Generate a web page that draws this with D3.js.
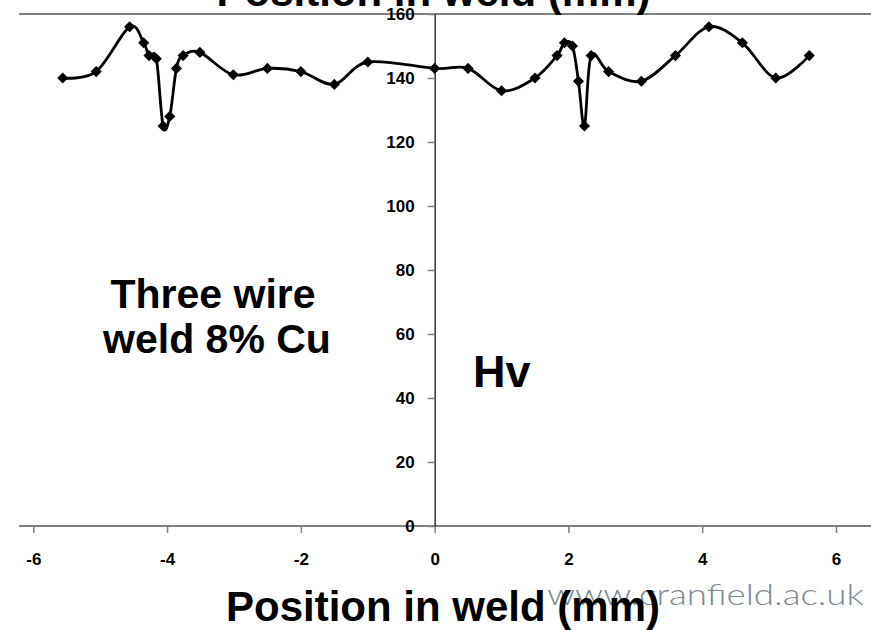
<!DOCTYPE html>
<html>
<head>
<meta charset="utf-8">
<script src="https://cdn.jsdelivr.net/npm/d3@7"></script>
<style>
  html, body { margin: 0; padding: 0; background: #fff; }
  svg { display: block; }
  text { font-family: "Liberation Sans", Arial, sans-serif; }
</style>
</head>
<body>
<svg id="chart" width="871" height="630"></svg>
<script>
// ---- data ----
const positions = [-5.56, -5.06, -4.56, -4.35, -4.27, -4.16, -4.06, -3.96, -3.86, -3.76, -3.51, -3.01,
  -2.5, -2.0, -1.5, -1.0, 0, 0.5, 1.0, 1.5, 1.83, 1.94, 2.06, 2.15, 2.24, 2.34, 2.6, 3.09,
  3.6, 4.1, 4.6, 5.1, 5.6];
const hardness = [140, 142, 156, 151, 147, 146, 125, 128, 143, 147, 148, 141,
  143, 142, 138, 145, 143, 143, 136, 140, 147, 151, 150, 139, 125, 147, 142, 139,
  147, 156, 151, 140, 147];
const xTickValues = [-6, -4, -2, 0, 2, 4, 6];
const xTickLabels = ["-6", "-4", "-2", "0", "2", "4", "6"];
const yTickValues = [0, 20, 40, 60, 80, 100, 120, 140, 160];
const yTickLabels = ["0", "20", "40", "60", "80", "100", "120", "140", "160"];
const axisTitle = "Position in weld (mm)";
const noteLines = ["Three wire", "weld 8% Cu"];
const unitLabel = "Hv";
const watermark = "www.cranfield.ac.uk";

const svg = d3.select("#chart");

const x = d3.scaleLinear().domain([-6, 6]).range([33.3, 836]);
const y = d3.scaleLinear().domain([0, 160]).range([526, 14]);

// plot area top border (gray)
svg.append("line").attr("x1", 19).attr("x2", 871).attr("y1", y(160)).attr("y2", y(160))
  .attr("stroke", "#808080").attr("stroke-width", 2);

// watermark
svg.append("text")
  .attr("x", 547).attr("y", 605)
  .attr("textLength", 317).attr("lengthAdjust", "spacingAndGlyphs")
  .style("font-family", "Lato, 'Open Sans', 'DejaVu Sans', sans-serif")
  .style("font-weight", 300)
  .style("font-size", "30px")
  .attr("fill", "#7a8894")
  .text(watermark);

// x axis
const xAxis = d3.axisBottom(x)
  .tickValues(xTickValues)
  .tickFormat((d, i) => xTickLabels[i])
  .tickSize(7).tickSizeOuter(0).tickPadding(20);
const gx = svg.append("g").attr("transform", `translate(0,${y(0)})`).call(xAxis);
gx.select(".domain").remove();
gx.selectAll(".tick line").attr("stroke", "#808080").attr("stroke-width", 1.5);
gx.selectAll(".tick text").attr("fill", "#000")
  .style("font-size", "17px").style("font-weight", "bold")
  .style("font-family", "'Liberation Sans', Arial, sans-serif");

svg.append("line").attr("x1", 19).attr("x2", 871).attr("y1", y(0)).attr("y2", y(0))
  .attr("stroke", "#808080").attr("stroke-width", 2);

// y axis at x = 0
const yAxis = d3.axisLeft(y)
  .tickValues(yTickValues)
  .tickFormat((d, i) => yTickLabels[i])
  .tickSize(7).tickSizeOuter(0).tickPadding(13);
const gy = svg.append("g").attr("transform", `translate(${x(0)},0)`).call(yAxis);
gy.select(".domain").attr("stroke", "#000").attr("stroke-width", 1.2);
gy.selectAll(".tick line").attr("stroke", "#808080").attr("stroke-width", 1.5);
gy.selectAll(".tick text").attr("fill", "#000")
  .style("font-size", "17px").style("font-weight", "bold")
  .style("font-family", "'Liberation Sans', Arial, sans-serif");

// line
const pts = positions.map((p, i) => [p, hardness[i]]);
const line = d3.line().x(d => x(d[0])).y(d => y(d[1])).curve(d3.curveCardinal.tension(0));
svg.append("path").datum(pts).attr("d", line)
  .attr("fill", "none").attr("stroke", "#000").attr("stroke-width", 2.8);

// diamond markers
const diamond = d3.symbol().type(d3.symbolSquare).size(62);
svg.append("g").selectAll("path").data(pts).join("path")
  .attr("d", diamond)
  .attr("transform", d => `translate(${x(d[0])},${y(d[1])}) rotate(45)`)
  .attr("fill", "#000");

// titles
svg.append("text").attr("x", 433.5).attr("y", 6).attr("text-anchor", "middle")
  .style("font-size", "42px").style("font-weight", "bold").attr("fill", "#000")
  .text(axisTitle);
svg.append("text").attr("x", 443).attr("y", 621).attr("text-anchor", "middle")
  .style("font-size", "42px").style("font-weight", "bold").attr("fill", "#000")
  .text(axisTitle);

// note
svg.append("text").attr("x", 215).attr("y", 308).attr("text-anchor", "middle")
  .style("font-size", "41px").style("font-weight", "bold").attr("fill", "#000")
  .selectAll("tspan").data(noteLines).join("tspan")
  .attr("x", (d, i) => i === 0 ? 213 : 217)
  .attr("dy", (d, i) => i === 0 ? 0 : 45)
  .text(d => d);

svg.append("text").attr("x", 473).attr("y", 387)
  .style("font-size", "45px").style("font-weight", "bold").attr("fill", "#000")
  .text(unitLabel);
</script>
</body>
</html>
